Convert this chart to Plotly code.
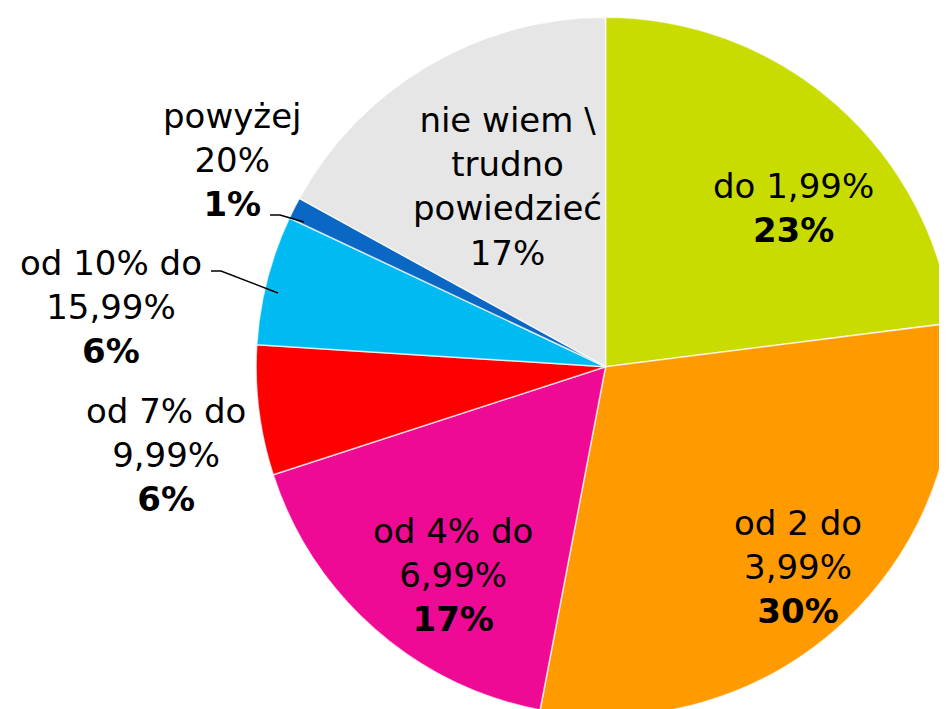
import plotly.graph_objects as go

categories = ["do 1,99%", "od 2 do<br>3,99%", "od 4% do<br>6,99%", "od 7% do<br>9,99%",
              "od 10% do<br>15,99%", "powyżej<br>20%", "nie wiem \\<br>trudno<br>powiedzieć"]
values = [23, 30, 17, 6, 6, 1, 17]
pct_labels = ["23%", "30%", "17%", "6%", "6%", "1%", "17%"]
bold_pct = [True, True, True, True, True, True, False]
colors = ["#C9DC02", "#FF9B00", "#EE0A94", "#FF0000", "#00BBF2", "#0A68C4", "#E6E6E6"]

# label anchor positions in pixels (x, y) for the 947x709 canvas
label_pos = [(785, 200), (790, 559), (445, 567), (158, 447), (103, 299), (224, 152), (500, 178)]

W, H = 947, 709
fig = go.Figure(go.Pie(
    labels=[c.replace("<br>", " ") for c in categories],
    values=values,
    sort=False,
    direction="clockwise",
    rotation=0,
    marker=dict(colors=colors, line=dict(color="rgba(255,255,255,0.7)", width=1.5)),
    textinfo="none",
    hoverinfo="label+percent",
    domain=dict(x=[0.262, 1.0], y=[0.001, 0.987]),
    showlegend=False,
))

annotations = []
for cat, pct, b, (px, py) in zip(categories, pct_labels, bold_pct, label_pos):
    p = f"<b>{pct}</b>" if b else pct
    annotations.append(dict(
        x=px / W, y=1 - py / H, xref="paper", yref="paper",
        text=f"{cat}<br>{p}", showarrow=False, align="center",
        xanchor="center", yanchor="middle",
        font=dict(family="DejaVu Sans", size=34, color="black"),
    ))

def path(pts):
    s = ""
    for i, (x, y) in enumerate(pts):
        s += ("M" if i == 0 else " L") + f" {x / W:.4f},{1 - y / H:.4f}"
    return s

shapes = [
    dict(type="path", xref="paper", yref="paper", path=path([(262, 207), (272, 207), (296, 214)]),
         line=dict(color="black", width=1.5)),
    dict(type="path", xref="paper", yref="paper", path=path([(203, 263), (213, 263), (270, 285)]),
         line=dict(color="black", width=1.5)),
]

fig.update_layout(
    width=W, height=H,
    margin=dict(l=0, r=0, t=0, b=0),
    paper_bgcolor="white", plot_bgcolor="white",
    annotations=annotations,
    shapes=shapes,
)
fig.write_html("out.html")
